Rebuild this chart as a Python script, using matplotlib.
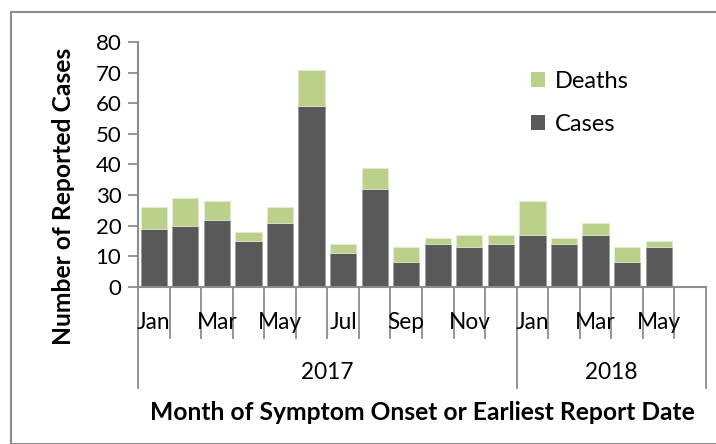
import matplotlib.pyplot as plt
import matplotlib.transforms as mtransforms
from matplotlib.patches import Patch, Rectangle

plt.rcParams['font.family'] = ['Lato', 'DejaVu Sans']

months = ["Jan", "Feb", "Mar", "Apr", "May", "Jun", "Jul", "Aug", "Sep", "Oct", "Nov", "Dec",
          "Jan", "Feb", "Mar", "Apr", "May", "Jun"]
years = ["2017", "2018"]
year_spans = [(0, 12), (12, 18)]
cases = [19, 20, 22, 15, 21, 59, 11, 32, 8, 14, 13, 14, 17, 14, 17, 8, 13, 0]
deaths = [7, 9, 6, 3, 5, 12, 3, 7, 5, 2, 4, 3, 11, 2, 4, 5, 2, 0]

case_color = "#595959"
death_color = "#BBD08B"
axis_color = "#8c8c8c"

fig = plt.figure(figsize=(7.16, 4.44), dpi=100)
ax = fig.add_axes([138 / 716, 1 - 287 / 444, 568 / 716, 245 / 444])

x = list(range(len(months)))
ax.bar(x, cases, width=0.83, color=case_color, edgecolor="#9a9a9a", linewidth=0.5)
ax.bar(x, deaths, bottom=cases, width=0.83, color=death_color, edgecolor="#e4edd2", linewidth=0.5)

ax.set_xlim(-0.5, len(months) - 0.5)
ax.set_ylim(0, 80)
ax.set_yticks(range(0, 81, 10))
ax.tick_params(axis="y", labelsize=16, length=7, width=1.3, color=axis_color, pad=5)
ax.set_xticks([])
for side in ["top", "right"]:
    ax.spines[side].set_visible(False)
for side in ["left", "bottom"]:
    ax.spines[side].set_color(axis_color)
    ax.spines[side].set_linewidth(1.5)

# multi-level category axis
trans = mtransforms.blended_transform_factory(ax.transData, ax.transAxes)
for i in range(len(months) + 1):
    bottom = -0.412 if i in (0, 12, 18) else -0.208
    ax.plot([i - 0.5, i - 0.5], [0, bottom], transform=trans, color=axis_color,
            lw=1.3, clip_on=False)
for i in range(0, len(months), 2):
    ax.text(i, -0.143, months[i], transform=trans, ha="center", va="center", fontsize=16.3)
for label, (a, b) in zip(years, year_spans):
    ax.text((a + b - 1) / 2, -0.35, label, transform=trans, ha="center", va="center", fontsize=16.3)

fig.text(422 / 716, 1 - 412 / 444, "Month of Symptom Onset or Earliest Report Date",
         ha="center", va="center", fontsize=17.7, fontweight="bold")
fig.text(64 / 716, 1 - 196 / 444, "Number of Reported Cases", rotation=90,
         ha="center", va="center", fontsize=17.7, fontweight="bold")

handles = [Patch(facecolor=death_color, label="Deaths"), Patch(facecolor=case_color, label="Cases")]
fig.legend(handles=handles, loc="upper left", bbox_to_anchor=(519 / 716, 1 - 59 / 444),
           frameon=False, fontsize=17, handlelength=0.6, handleheight=0.6,
           handletextpad=0.4, labelspacing=0.95, borderpad=0)

fig.patches.append(Rectangle((11 / 716, 0), 1.0, 1 - 12 / 444, transform=fig.transFigure,
                             fill=False, edgecolor="#8c8c8c", linewidth=1.5))

fig.savefig("out.png", dpi=100)
